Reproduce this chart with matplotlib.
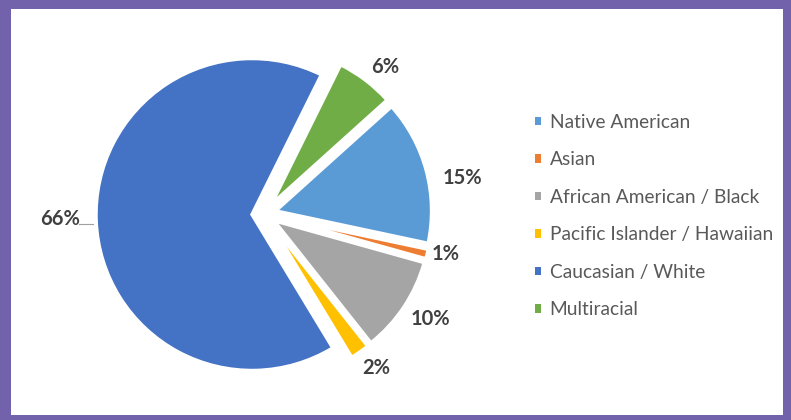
import matplotlib
matplotlib.use("Agg")
import matplotlib.pyplot as plt
from matplotlib.patches import Rectangle
import numpy as np

categories = ["Native American", "Asian", "African American / Black",
              "Pacific Islander / Hawaiian", "Caucasian / White", "Multiracial"]
values = [15, 1, 10, 2, 66, 6]
pct_labels = ["15%", "1%", "10%", "2%", "66%", "6%"]

colors = ["#5B9BD5", "#ED7D31", "#A5A5A5", "#FFC000", "#4472C4", "#70AD47"]
label_dist = [1.296, 1.194, 1.259, 1.22, 1.308, 1.22]
label_dang = [-4.75, 1.4, 1.3, 1.2, -1.1, -2.3]

W, H = 791, 420
fig = plt.figure(figsize=(W / 100, H / 100), dpi=100)
fig.patch.set_facecolor("#7262AC")
fig.add_artist(Rectangle((11 / W, 5 / H), 772 / W, 406 / H,
                         transform=fig.transFigure, facecolor="white",
                         edgecolor="none", zorder=0))

ax = fig.add_axes([0, 0, 1, 1])
ax.set_facecolor("none")

cx, cy, R = 264, 420 - 214, 156
wedges, _ = ax.pie(values, colors=colors, startangle=42, counterclock=False,
                   center=(cx, cy), radius=R, explode=[12.0] * len(values),
                   wedgeprops=dict(edgecolor="white", linewidth=2.5))
ax.set_xlim(0, W)
ax.set_ylim(0, H)
ax.set_aspect("equal")
ax.axis("off")

for w, lab, d, da in zip(wedges, pct_labels, label_dist, label_dang):
    th = np.deg2rad((w.theta1 + w.theta2) / 2 + da)
    x = cx + R * d * np.cos(th)
    y = cy + R * d * np.sin(th)
    ax.text(x, y, lab, ha="center", va="center", fontsize=14.5,
            fontweight="bold", color="#404040", family="Lato")
    if lab == "66%":
        ax.plot([x + 19, x + 33], [y - 5.5, y - 5.5], color="#A0A0A0", lw=0.8)

leg = ax.legend(wedges, categories, loc="upper left",
                bbox_to_anchor=(517.5 / W, 1 - 96.5 / H), frameon=False,
                handlelength=0.31, handleheight=0.31, handletextpad=0.46,
                labelspacing=1.07, prop=dict(family="Lato", size=13.8))
for t in leg.get_texts():
    t.set_color("#595959")
for h in leg.legend_handles:
    h.set_edgecolor("none")

fig.savefig("out.png", dpi=100, facecolor=fig.get_facecolor())
